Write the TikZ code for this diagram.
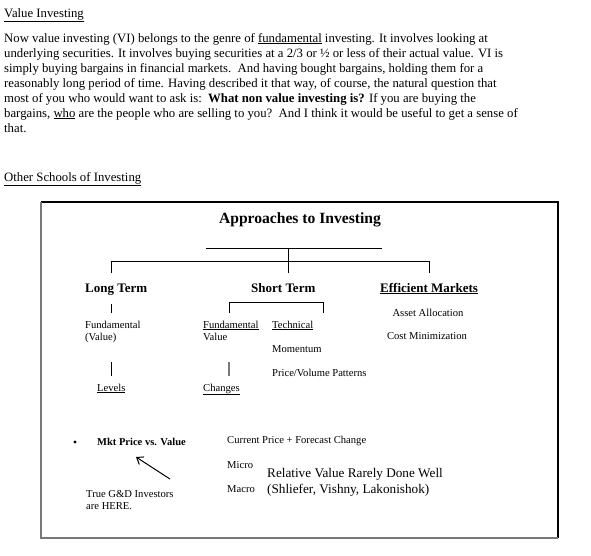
\documentclass[tikz,border=0pt]{standalone}
\usepackage{fontspec}
\setmainfont{Liberation Serif}
\usetikzlibrary{arrows.meta}
\definecolor{boxgray}{RGB}{120,120,120}

\tikzset{
  bodytext/.style={anchor=base west, inner sep=0pt, font=\fontsize{12.75}{15}\selectfont},
  titletext/.style={anchor=base, inner sep=0pt, font=\fontsize{15.6}{18}\selectfont\bfseries},
  headtext/.style={anchor=base west, inner sep=0pt, font=\fontsize{13}{15}\selectfont\bfseries},
  smalltext/.style={anchor=base west, inner sep=0pt, font=\fontsize{10.6}{12}\selectfont},
  bigtext/.style={anchor=base west, inner sep=0pt, font=\fontsize{13.2}{16}\selectfont},
  treeline/.style={line width=0.9pt},
}

\begin{document}
\begin{tikzpicture}[x=1pt,y=-1pt]
\useasboundingbox (0,0) rectangle (591,555);

% text above the chart
\node[bodytext] (heading) at (4,17) {\underline{Value Investing}};
\foreach \yb/\txt [count=\i] in {%
  42/{Now value investing (VI) belongs to the genre of \underline{fundamental} investing. It involves looking at},%
  57/{underlying securities. It involves buying securities at a 2/3 or ½ or less of their actual value. VI is},%
  72/{simply buying bargains in financial markets.\ \ And having bought bargains, holding them for a},%
  87/{reasonably long period of time. Having described it that way, of course, the natural question that},%
  102/{most of you who would want to ask is:\ \ \textbf{What non value investing is?} If you are buying the},%
  117/{bargains, \underline{who} are the people who are selling to you?\ \ And I think it would be useful to get a sense of},%
  132/{that.}%
}{
  \node[bodytext] (para\i) at (4,\yb) {\txt};
}
\node[bodytext] (schools) at (4,181) {\underline{Other Schools of Investing}};

% frame
\draw[line width=1.1pt] (41,202) -- (558,202) -- (558,538);
\draw[boxgray, line width=1.3pt] (41,202) -- (41,538) -- (558,538);

% tree
\node[titletext] (title) at (300,223) {Approaches to Investing};
\coordinate (hub) at (288,248);
\coordinate (fork) at (288,261);
\draw[treeline] (206,248) -- (382,248);
\draw[treeline] (hub) -- (288,273);
\draw[treeline] (111,273) -- (111,261) -- (429,261) -- (429,273);

\node[headtext] (longterm) at (85,292) {Long Term};
\node[headtext] (shortterm) at (251,292) {Short Term};
\node[headtext] (efficient) at (380,292) {\underline{Efficient Markets}};

\draw[treeline] (111,304) -- (111,313);
\draw[treeline] (229,313) -- (229,302) -- (323,302) -- (323,313);

\node[smalltext, align=left] (ltfund) at (85,340) {Fundamental\\(Value)};
\node[smalltext, align=left] (stfund) at (203,340) {\underline{Fundamental}\\Value};
\node[smalltext] (technical) at (272,328) {\underline{Technical}};
\node[smalltext] (momentum) at (272,352) {Momentum};
\node[smalltext] (patterns) at (272,376) {Price/Volume Patterns};
\node[smalltext, anchor=base] (assetalloc) at (428,316) {Asset Allocation};
\node[smalltext, anchor=base] (costmin) at (427,339) {Cost Minimization};

\draw[treeline] (111,362) -- (111,376);
\draw[boxgray, line width=1.2pt] (229,362) -- (229,376);

\node[smalltext] (levels) at (97,391) {\underline{Levels}};
\node[smalltext] (changes) at (203,391) {\underline{Changes}};

% lower part
\fill (75,442) circle (1.6);
\node[smalltext, font=\fontsize{10.5}{12}\selectfont\bfseries] (mktprice) at (97,445) {Mkt Price vs. Value};
\node[smalltext] (forecast) at (227,443) {Current Price + Forecast Change};
\node[smalltext] (micro) at (227,468) {Micro};
\node[smalltext] (macro) at (227,492) {Macro};
\node[bigtext] (relvalue) at (267,477) {Relative Value Rarely Done Well};
\node[bigtext] (authors) at (267,493) {(Shliefer, Vishny, Lakonishok)};
\node[smalltext, align=left] (gdinv) at (86,509) {True G\&D Investors\\are HERE.};
\coordinate (arrowtail) at (170,479);
\coordinate (arrowtip) at (136,457);
\draw[line width=1pt, -{Straight Barb[length=6pt,width=9pt]}] (arrowtail) -- (arrowtip);
\end{tikzpicture}
\end{document}
